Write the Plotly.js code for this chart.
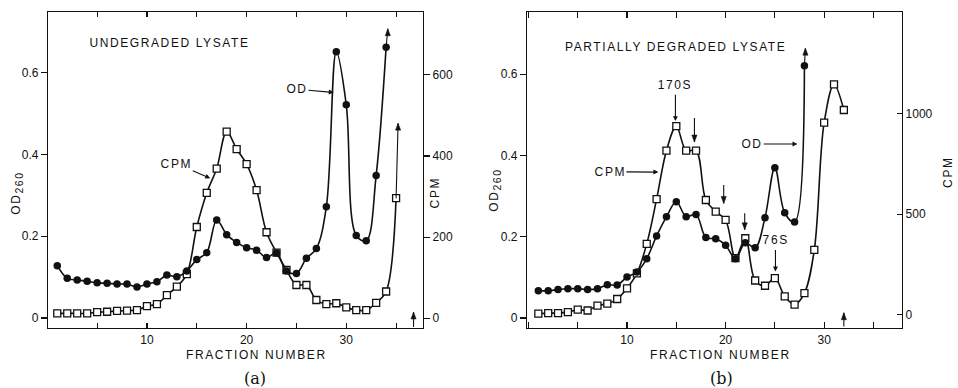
<!DOCTYPE html>
<html><head><meta charset="utf-8">
<script src="https://cdn.plot.ly/plotly-3.0.1.min.js"></script>
<style>html,body{margin:0;padding:0;background:#fff}#chart{width:958px;height:388px}</style>
</head><body><div id="chart"></div>
<script>
// ---------- data ----------
const fractionsA = [1,2,3,4,5,6,7,8,9,10,11,12,13,14,15,16,17,18,19,20,21,22,23,24,25,26,27,28,29,30,31,32,33,34,35];
const odA = [0.128,0.097,0.093,0.090,0.086,0.085,0.083,0.083,0.076,0.083,0.089,0.105,0.101,0.115,0.143,0.160,0.240,0.204,0.185,0.172,0.166,0.148,0.159,0.115,0.109,0.146,0.170,0.272,0.652,0.522,0.202,0.189,0.349,0.663];
const cpmA = [12,12,12,12,15,16,18,19,20,30,35,57,78,109,225,309,369,460,417,380,316,212,162,119,82,82,45,35,37,27,20,20,38,66,296];

const fractionsB = [1,2,3,4,5,6,7,8,9,10,11,12,13,14,15,16,17,18,19,20,21,22,23,24,25,26,27,28,29,30,31,32];
const odB = [0.067,0.067,0.070,0.072,0.072,0.070,0.072,0.082,0.081,0.101,0.113,0.146,0.202,0.249,0.286,0.249,0.255,0.198,0.195,0.179,0.146,0.185,0.173,0.247,0.370,0.259,0.236,0.621];
const cpmB = [5,8,8,13,25,21,45,55,78,131,205,352,574,815,937,815,815,570,512,471,281,380,170,144,182,91,50,107,322,954,1144,1017];

const odTickVals = [0,0.2,0.4,0.6];
const odTickText = ["0","0.2","0.4","0.6"];
const cpmTickValsA = [0,200,400,600];
const cpmTickValsB = [0,500,1000];
const fracTickVals = [10,20,30];
const fracTickText = ["10","20","30"];

// ---------- styles ----------
const INK = '#111';
const FONT = {family:'"Liberation Sans", Arial, sans-serif', size:12, color:INK};
const lineStyle = {color:INK, width:1.6, shape:'spline', smoothing:1};
const squareMarker = {symbol:'square', size:7, color:'#fff', line:{color:INK, width:1.3}};
const circleMarker = {symbol:'circle', size:7.5, color:INK, line:{width:0}};

const traces = [
  {x:fractionsA, y:cpmA, xaxis:'x', yaxis:'y', mode:'lines+markers', line:lineStyle, marker:squareMarker, name:'CPM (a)'},
  {x:fractionsA.slice(0, odA.length), y:odA, xaxis:'x', yaxis:'y2', mode:'lines+markers', line:lineStyle, marker:circleMarker, name:'OD (a)'},
  {x:fractionsB, y:cpmB, xaxis:'x2', yaxis:'y3', mode:'lines+markers', line:lineStyle, marker:squareMarker, name:'CPM (b)'},
  {x:fractionsB.slice(0, odB.length), y:odB, xaxis:'x2', yaxis:'y4', mode:'lines+markers', line:lineStyle, marker:circleMarker, name:'OD (b)'}
];

const W = 958, H = 388;
const domA = [48/W, 423/W], domB = [527/W, 902/W];
const domY = [1-328/H, 1-12/H];

const baseAxis = {showgrid:false, zeroline:false, showline:true, linecolor:INK, linewidth:1.2,
  tickcolor:INK, tickwidth:1.1, tickfont:FONT, tickmode:'array', fixedrange:true};
const minorX = {ticks:'inside', ticklen:5, tickcolor:INK, tickwidth:1.1, dtick:5, tick0:0, showgrid:false};

const layout = {
  width:W, height:H, margin:{l:0,r:0,t:0,b:0},
  paper_bgcolor:'#fff', plot_bgcolor:'#fff', showlegend:false, font:FONT,
  xaxis: Object.assign({}, baseAxis, {domain:domA, range:[0.07,37.7], anchor:'y',
    ticks:'inside', ticklen:5, mirror:'ticks', tickvals:fracTickVals, ticktext:fracTickText, minor:minorX}),
  yaxis: Object.assign({}, baseAxis, {domain:domY, range:[-24,755], anchor:'x', side:'right',
    ticks:'outside', ticklen:6, tickvals:cpmTickValsA, ticktext:cpmTickValsA.map(String)}),
  yaxis2: Object.assign({}, baseAxis, {overlaying:'y', range:[-0.0245,0.749], anchor:'x', side:'left',
    ticks:'outside', ticklen:6, tickvals:odTickVals, ticktext:odTickText}),
  xaxis2: Object.assign({}, baseAxis, {domain:domB, range:[-0.15,37.9], anchor:'y3',
    ticks:'inside', ticklen:6, mirror:'ticks', tickvals:fracTickVals, ticktext:fracTickText,
    minor:Object.assign({}, minorX, {ticklen:6})}),
  yaxis3: Object.assign({}, baseAxis, {domain:domY, range:[-66,1504], anchor:'x2', side:'right',
    ticks:'inside', ticklen:5, tickvals:cpmTickValsB, ticktext:cpmTickValsB.map(String)}),
  yaxis4: Object.assign({}, baseAxis, {overlaying:'y3', range:[-0.0246,0.753], anchor:'x2', side:'left',
    ticks:'outside', ticklen:6, tickvals:odTickVals, ticktext:odTickText}),
  annotations: [],
  shapes: []
};

function paperText(text, x, y, extra) {
  return Object.assign({text:text, x:x, y:y, xref:'paper', yref:'paper', showarrow:false,
    xanchor:'center', yanchor:'middle', font:FONT}, extra || {});
}
function labelArrow(xr, yr, x, y, ax, ay, text) {
  return {text:text, x:x, y:y, ax:ax, ay:ay, xref:xr, yref:yr, axref:xr, ayref:yr,
    showarrow:true, arrowhead:2, arrowsize:0.9, arrowwidth:1.1, arrowcolor:INK, standoff:0, startstandoff:1,
    font:FONT};
}
// plain arrow (no text): a stem line in data units plus a pixel-sized triangular head
function plainArrow(xr, yr, x0, y0, x1, y1) {
  const up = y1 > y0;
  const head = up ? 'M0,0 L-2.6,-7 L2.6,-7 Z' : 'M0,0 L-2.6,7 L2.6,7 Z';
  layout.shapes.push(
    {type:'line', xref:xr, yref:yr, x0:x0, y0:y0, x1:x1, y1:y1, line:{color:INK, width:1.1}},
    {type:'path', xref:xr, yref:yr, xsizemode:'pixel', ysizemode:'pixel', xanchor:x1, yanchor:y1,
     path:head, fillcolor:INK, line:{color:INK, width:0.5}}
  );
}

layout.annotations.push(
  paperText('UNDEGRADED LYSATE', 169/W, 1-43/H),
  paperText('PARTIALLY DEGRADED LYSATE', 675/W, 1-46.5/H),
  paperText('FRACTION NUMBER', 256.5/W, 1-355/H),
  paperText('FRACTION NUMBER', 720/W, 1-355/H),
  paperText('(a)', 255/W, 1-378/H, {font:{family:'"DejaVu Serif", "Liberation Serif", serif', size:16, color:INK}}),
  paperText('(b)', 721.7/W, 1-378/H, {font:{family:'"DejaVu Serif", "Liberation Serif", serif', size:16, color:INK}}),
  paperText('OD<sub>260</sub>', 17/W, 1-193/H, {textangle:-90}),
  paperText('OD<sub>260</sub>', 495/W, 1-190/H, {textangle:-90}),
  paperText('CPM', 435/W, 1-193/H, {textangle:-90}),
  paperText('CPM', 947/W, 1-172.5/H, {textangle:-90}),
  labelArrow('x','y2', 16.35, 0.342, 13.0, 0.377, 'CPM'),
  labelArrow('x','y2', 28.74, 0.552, 25.06, 0.560, 'OD'),
  labelArrow('x2','y4', 13.18, 0.359, 8.31, 0.360, 'CPM'),
  labelArrow('x2','y4', 27.29, 0.428, 22.70, 0.428, 'OD'),
  labelArrow('x2','y4', 14.91, 0.4845, 14.91, 0.573, '170S'),
  labelArrow('x2','y4', 25.06, 0.1145, 25.06, 0.191, '76S')
);

// panel (a) plain arrows
plainArrow('x','y2', fractionsA[odA.length-1], odA[odA.length-1], 34.17, 0.708);
plainArrow('x','y', fractionsA[cpmA.length-1], cpmA[cpmA.length-1], 35.2, 481);
plainArrow('x','y2', 36.75, -0.022, 36.75, 0.0147);
// panel (b) plain arrows
plainArrow('x2','y4', 16.84, 0.492, 16.84, 0.433);
plainArrow('x2','y4', 19.81, 0.327, 19.81, 0.282);
plainArrow('x2','y4', 21.94, 0.258, 21.94, 0.217);
plainArrow('x2','y4', fractionsB[odB.length-1], odB[odB.length-1], 28.1, 0.664);
plainArrow('x2','y4', 32.0, -0.021, 32.0, 0.013);

Plotly.newPlot('chart', traces, layout, {staticPlot:true, displayModeBar:false}).then(function(gd){
  gd.querySelectorAll('.annotation-text').forEach(function(t){
    if (!/^\([ab]\)$/.test(t.textContent)) t.style.letterSpacing = '1.6px';
  });
  // subscript "260" is nearly full size in the original lettering
  gd.querySelectorAll('.annotation-text tspan').forEach(function(ts){
    if (ts.textContent === '260') ts.style.fontSize = '10.5px';
  });
  // drop empty placeholder text nodes (unused axis titles)
  gd.querySelectorAll('text').forEach(function(t){
    if (!t.textContent.trim()) t.parentNode.removeChild(t);
  });
});
</script>
</body></html>
